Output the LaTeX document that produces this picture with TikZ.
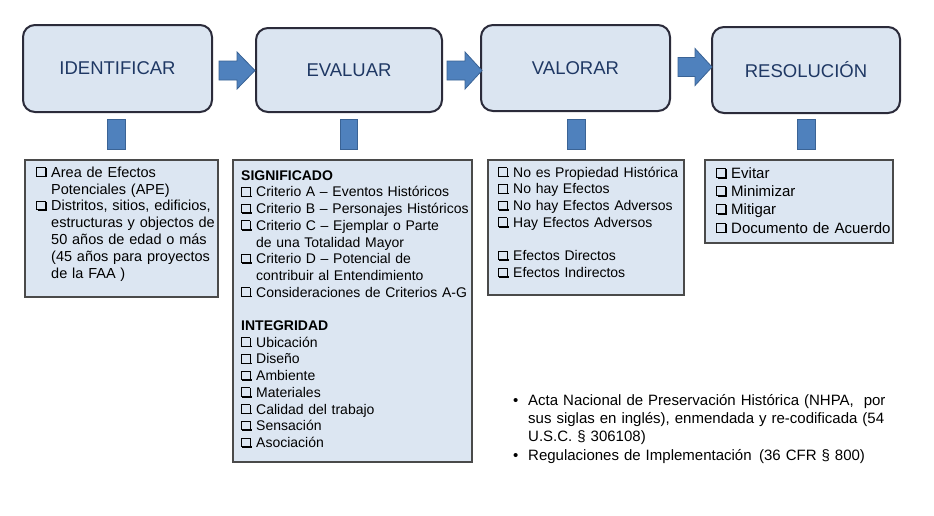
\documentclass[tikz,border=0pt]{standalone}
\usepackage{fontspec}
\setmainfont{Liberation Sans}
\definecolor{topfill}{HTML}{DBE5F1}
\definecolor{topline}{HTML}{2B2B3A}
\definecolor{lowfill}{HTML}{DCE6F2}
\definecolor{lowline}{HTML}{4A4A4A}
\definecolor{blockfill}{HTML}{4F81BD}
\definecolor{blockline}{HTML}{3A6395}
\definecolor{labeltext}{HTML}{1F3864}
\newcommand\cbx{\makebox[15pt][l]{\raisebox{0.1em}{\rlap{\hspace{0.09em}\rule[-0.12em]{0.66em}{0.11em}}\rlap{\hspace{0.62em}\rule[-0.12em]{0.11em}{0.66em}}{\fboxrule=0.055em\fboxsep=0pt\fbox{\rule{0pt}{0.55em}\hspace{0.55em}}}}}}
\newcommand\ind{\hspace*{15pt}}
\newcommand\blockarrow[4]{%
  \filldraw[blockstyle] (#1,#4-9.5) -- (#2,#4-9.5) -- (#2,#4-18.5) -- (#3,#4)
    -- (#2,#4+18.5) -- (#2,#4+9.5) -- (#1,#4+9.5) -- cycle;}
\begin{document}
\begin{tikzpicture}[x=1pt,y=-1pt,
  topbox/.style={draw=topline, fill=topfill, line width=2pt, rounded corners=12pt,
    text=labeltext, font=\fontsize{18.5}{22}\selectfont, inner sep=0pt},
  lowbox/.style={draw=lowline, fill=lowfill, line width=1.1pt, inner sep=0pt},
  blockstyle/.style={fill=blockfill, draw=blockline, line width=0.8pt},
  boxtext/.style={anchor=north west, inner sep=0pt, align=left, text=black}]
\useasboundingbox (0,0) rectangle (934,515);
\fill[white] (0,0) rectangle (934,515);

% top stage boxes
\node[topbox, minimum width=189pt, minimum height=87pt] (id) at (117.5,68.5) {IDENTIFICAR};
\node[topbox, minimum width=186pt, minimum height=84pt] (ev) at (349,70) {EVALUAR};
\node[topbox, minimum width=189pt, minimum height=86pt] (va) at (575.5,68) {VALORAR};
\node[topbox, minimum width=188pt, minimum height=86pt] (re) at (806,70) {RESOLUCIÓN};

% block arrows
\blockarrow{219}{237}{255}{70.5}
\blockarrow{447}{465}{482}{70.5}
\blockarrow{678}{695}{712}{67}

% small connectors
\filldraw[blockstyle] (107,119) rectangle (125,149);
\filldraw[blockstyle] (340,119) rectangle (357,149);
\filldraw[blockstyle] (567,119) rectangle (585,149);
\filldraw[blockstyle] (797,119) rectangle (815,149);

% lower boxes
\node[lowbox, minimum width=193pt, minimum height=137pt] (b1) at (121.5,228.5) {};
\node[lowbox, minimum width=239pt, minimum height=302pt] (b2) at (352.5,311) {};
\node[lowbox, minimum width=196pt, minimum height=135pt] (b3) at (586,227.5) {};
\node[lowbox, minimum width=188pt, minimum height=83pt] (b4) at (799,201.5) {};

\node[boxtext, text width=185pt, font=\fontsize{14.5}{16.8}\selectfont] (t1) at (36,166) {%
\rule{0pt}{11pt}\cbx Area de Efectos\\
\ind Potenciales (APE)\\
\cbx Distritos, sitios, edificios,\\
\ind estructuras y objectos de\\
\ind 50 años de edad o más\\
\ind (45 años para proyectos\\
\ind de la FAA )};

\node[boxtext, text width=235pt, font=\fontsize{14}{16.7}\selectfont] (t2) at (241,169) {%
\rule{0pt}{11pt}\textbf{SIGNIFICADO}\\
\cbx Criterio A – Eventos Históricos\\
\cbx Criterio B – Personajes Históricos\\
\cbx Criterio C – Ejemplar o Parte\\
\ind de una Totalidad Mayor\\
\cbx Criterio D – Potencial de\\
\ind contribuir al Entendimiento\\
\cbx Consideraciones de Criterios A-G\\
\mbox{}\\
\textbf{INTEGRIDAD}\\
\cbx Ubicación\\
\cbx Diseño\\
\cbx Ambiente\\
\cbx Materiales\\
\cbx Calidad del trabajo\\
\cbx Sensación\\
\cbx Asociación};

\node[boxtext, text width=190pt, font=\fontsize{14}{16.7}\selectfont] (t3) at (498,166) {%
\rule{0pt}{11pt}\cbx No es Propiedad Histórica\\
\cbx No hay Efectos\\
\cbx No hay Efectos Adversos\\
\cbx Hay Efectos Adversos\\
\mbox{}\\
\cbx Efectos Directos\\
\cbx Efectos Indirectos};

\node[boxtext, text width=185pt, font=\fontsize{15}{18.3}\selectfont] (t4) at (716,167) {%
\rule{0pt}{11pt}\cbx Evitar\\
\cbx Minimizar\\
\cbx Mitigar\\
\cbx Documento de Acuerdo};

% references
\node[boxtext, text width=420pt, font=\fontsize{15}{18.3}\selectfont] (refs) at (513,394) {%
\rule{0pt}{11pt}\makebox[15pt][l]{•}\makebox[372pt][s]{Acta Nacional de Preservación Histórica (NHPA,\ \ por}\\
\ind\makebox[372pt][s]{sus siglas en inglés), enmendada y re-codificada (54}\\
\ind U.S.C.\ § 306108)\\[0.8pt]
\makebox[15pt][l]{•}Regulaciones de Implementación\hspace{0.5em}(36 CFR § 800)};
\end{tikzpicture}
\end{document}
